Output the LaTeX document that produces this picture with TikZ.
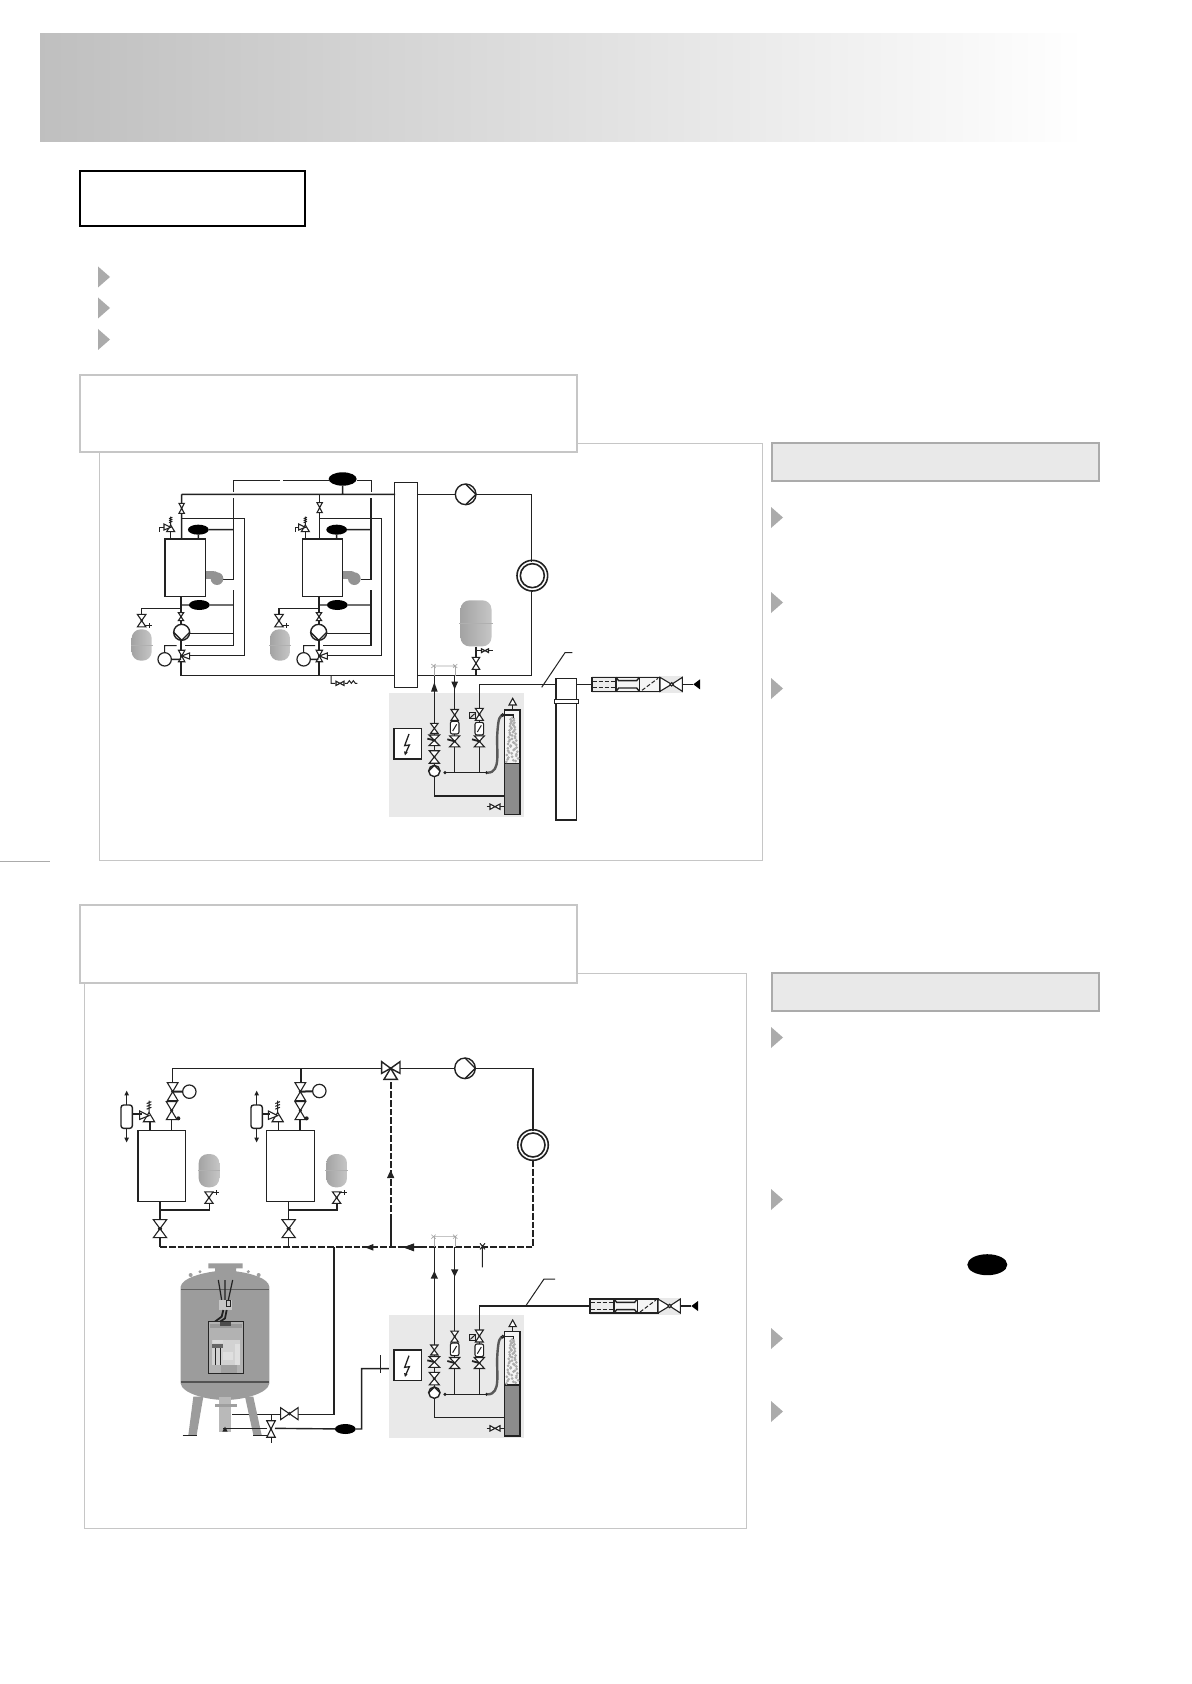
\documentclass[tikz,border=0pt]{standalone}
\usetikzlibrary{shapes.geometric}
\definecolor{boxg}{HTML}{C6C6C6}
\definecolor{headg}{HTML}{ABABAB}
\definecolor{fillg}{HTML}{E9E9E9}
\definecolor{bull}{HTML}{ABABAB}
\definecolor{lineb}{HTML}{222222}
\definecolor{tankg}{HTML}{9C9C9C}
\tikzset{
  pipe/.style={line width=0.7pt,draw=lineb,line join=miter},
  thinp/.style={line width=0.5pt,draw=lineb},
  hair/.style={line width=0.3pt,draw=gray!70},
  dashp/.style={line width=0.9pt,draw=lineb,dash pattern=on 3.4pt off 1pt},
  vlv/.style={draw=lineb,fill=white,line width=0.55pt,line join=miter},
  sensor/.style={ellipse,fill=black,inner sep=0pt,outer sep=0pt,minimum width=10.4pt,minimum height=5pt},
  bigsensor/.style={sensor,minimum width=14pt,minimum height=6.7pt},
  boilerbox/.style={draw=lineb,fill=white,line width=0.7pt,inner sep=0pt,outer sep=0pt,minimum width=20.2pt,minimum height=28.8pt},
  boilerboxb/.style={boilerbox,minimum width=23.8pt,minimum height=35.5pt},
  ctrl/.style={circle,draw=lineb,fill=white,line width=0.6pt,inner sep=0pt,outer sep=0pt,minimum size=6.7pt},
}
\newcommand{\pk}[3][]{\begin{scope}[shift={(#2)},#1]\csname elem#3\endcsname\end{scope}}
\newcommand{\elembow}{\draw[vlv] (-8,-15)--(8,-15)--(-8,15)--(8,15)--cycle;}
\newcommand{\elembowdot}{\draw[vlv] (-8,-15)--(8,-15)--(-8,15)--(8,15)--cycle; \fill[lineb] (0,0) circle (2.6);}
\newcommand{\elemthreeway}{\draw[vlv] (-8,-15)--(8,-15)--(-8,15)--(8,15)--cycle;
     \draw[vlv] (0,0)--(20,-8)--(20,8)--cycle; \fill[lineb] (0,0) circle (3);}
\newcommand{\elempmp}{\draw[vlv,line width=0.7pt] (0,0) circle (1);
     \draw[line width=0.7pt,draw=lineb] (0,1)--(1,0)--(0,-1);}
\newcommand{\elemvessel}{\shade[left color=gray!72,middle color=gray!65,right color=gray!45,rounded corners=4.5pt] (-30,-47) rectangle (30,47);
     \fill[gray!62] (-33,-1.5) rectangle (33,1.5);}
\newcommand{\elemsafety}{\draw[vlv] (0,-7)--(12,13)--(-12,13)--cycle;
     \draw[vlv] (-20,-10)--(0,0)--(-20,8)--cycle;
     \draw[thinp] (0,-7)--(0,-32) (-5,-14)--(5,-18) (-5,-20)--(5,-24) (-5,-26)--(5,-30);}
\newcommand{\elemfilterp}{\draw[vlv,rounded corners=1pt] (-13,-19) rectangle (13,19);
     \draw[thinp] (-6,10)--(6,-10);}
\newcommand{\elemlightn}{\draw[thinp,line width=0.65pt,line join=miter] (5,-30)--(-8,5)--(6,3)--(-6,30);
     \fill[lineb] (-10,22)--(-7,34)--(1,25)--cycle;}
\newcommand{\elemcartridge}{%
     \fill[fillg] (0,-25) rectangle (272,27);
     \draw[thinp,fill=gray!15,line width=0.65pt] (0,-21) rectangle (72,21);
     \draw[thinp,dash pattern=on 2pt off 1pt] (2,-10)--(70,-10) (2,10)--(70,10);
     \draw[thinp,fill=gray!8,line width=0.65pt] (72,-21) rectangle (142,21);
     \draw[pipe] (72,-21)--(80,-11)--(134,-11)--(142,-21) (72,21)--(80,11)--(134,11)--(142,21);
     \draw[thinp,fill=gray!8,line width=0.65pt] (142,-21) rectangle (204,21);
     \draw[thinp,dash pattern=on 2pt off 1pt] (150,18)--(198,-18);
     \draw[vlv] (204,-21)--(239,0)--(204,21)--cycle;
     \draw[vlv] (239,0)--(271,-21)--(271,21)--cycle;
     \draw[vlv] (239,0) circle (5);
     \draw[pipe] (271,0)--(304,0);
     \fill[black] (304,0)--(324,-15)--(324,15)--cycle;}
\newcommand{\bullettri}[2]{\fill[bull] (#1,#2) -- ++(12,10.5) -- ++(-12,10.5) -- cycle;}
\newcommand{\treatunit}{%
  \fill[fillg] (57,730) rectangle (462,1100);
  \fill[white] (72,835) rectangle (155,927);
  \draw[thinp,line width=0.6pt] (72,835) rectangle (155,927);
  \pk{112,882}{lightn}
  \draw[pipe] (193,728)--(193,1038)--(403,1038);
  \draw[pipe] (254,728)--(254,968);
  \draw[pipe] (328,770)--(328,968);
  \draw[pipe,line width=0.55pt] (225,968)--(350,968);
  \draw[thinp] (225,968) circle (3) (350,968) circle (3);
  \draw[gray!70!black,line width=1.2pt] (353,968) .. controls (395,968) and (378,900) .. (382,850) .. controls (385,805) and (388,795) .. (402,795);
  % column
  \draw[pipe,fill=gray!8] (404,780) rectangle (450,940);
  \fill[gray!90,draw=lineb,line width=0.7pt] (404,940) rectangle (450,1093);
  \foreach \i in {0,...,52}{
    \pgfmathsetmacro{\bx}{427+(5+\i*0.26)*sin(\i*137)}
    \pgfmathsetmacro{\by}{803+\i*2.55}
    \fill[gray!65] (\bx,\by) circle (4.5);
  }
  \draw[pipe] (398,795)--(430,795)--(430,803);
  \draw[thinp,fill=gray] (398,795) circle (4);
  \draw[pipe] (428,780)--(428,765);
  \draw[vlv] (428,745)--(439,765)--(417,765)--cycle;
  \draw[pipe] (350,1070)--(403,1070);
  \pk[rotate=90]{375,1070}{bow}
  % left branch
  \pk[xscale=1.4,yscale=1]{193,835}{bow}
  \pk[xscale=2,yscale=1.07]{193,871}{bowdot}
  \draw[pipe,line width=0.9pt] (172,866)--(193,871);
  \pk[xscale=1.9,yscale=1.25]{193,921}{bowdot}
  \pk[rotate=90,scale=17]{193,963}{pmp}
  % middle branch
  \pk[xscale=1.4,yscale=1.1]{254,795}{bowdot}
  \pk{254,833}{filterp}
  \pk[xscale=1.9,yscale=1.1]{254,874}{bowdot}
  \draw[pipe,line width=0.9pt] (232,868)--(254,874);
  % right branch
  \pk[xscale=1.5,yscale=1.2]{328,793}{bowdot}
  \pk{328,836}{filterp}
  \pk[xscale=1.9,yscale=1.1]{328,874}{bowdot}
  \draw[pipe,line width=0.9pt] (306,868)--(328,874);
  \draw[thinp,fill=gray!25,line width=0.65pt] (298,788) rectangle (317,806);
  \draw[thinp] (301,803)--(314,791);
}
\begin{document}
\begin{tikzpicture}[x=0.5pt,y=-0.5pt]
\useasboundingbox (0,0) rectangle (1191,1684);
\fill[white] (0,0) rectangle (1191,1684);
% header
\shade[left color=black!25,right color=white] (40,34) rectangle (1085,142);
\draw[black,line width=1pt,fill=white] (80,171) rectangle (305,226);
\bullettri{98}{266.5}
\bullettri{98}{297.5}
\bullettri{98}{329}
% panels
\draw[boxg,line width=0.5pt] (99.5,444) rectangle (762.5,860);
\draw[boxg,line width=1pt,fill=white] (80,375) rectangle (577,452);
\draw[headg,line width=1pt,fill=fillg] (772,443) rectangle (1099,481);
\bullettri{771}{507}
\bullettri{771}{592}
\bullettri{771}{678}
\draw[headg,line width=0.6pt] (0,861.5) -- (50,861.5);
\draw[boxg,line width=0.5pt] (84.5,973) rectangle (746.5,1528);
\draw[boxg,line width=1pt,fill=white] (80,905) rectangle (577,983);
\draw[headg,line width=1pt,fill=fillg] (772,973) rectangle (1099,1011);
\bullettri{771}{1027}
\bullettri{771}{1189}
\bullettri{771}{1328}
\bullettri{771}{1401}
\node[sensor,minimum width=20pt,minimum height=10.5pt] (noteellipse) at (987.3,1264.7) {};

% ===== diagram 1, boilers =====
\begin{scope}[shift={(100,450)},scale=0.33333]
 \node[bigsensor] (top) at (728,87) {};
 \node[sensor] (s1t) at (295,239) {};
 \node[sensor] (s1b) at (298,465) {};
 \node[sensor] (s2t) at (710,239) {};
 \node[sensor] (s2b) at (712,465) {};
 \draw[pipe] (245,133)--(885,133) (245,133)--(245,265) (728,133)--(top);
 \draw[pipe] (659,133)--(659,265);
 \draw[thinp] (400,125)--(400,90)--(540,90) (550,90)--(690,90) (770,90)--(813,90)--(813,125);
 \draw[pipe] (400,145)--(400,388)--(370,388) (813,145)--(813,388)--(782,388);
 \draw[pipe] (400,420)--(400,587)--(255,587) (813,420)--(813,587)--(668,587);
 \draw[pipe] (245,206)--(434,206)--(434,616)--(265,616);
 \draw[pipe] (659,206)--(845,206)--(845,616)--(680,616);
 \draw[pipe] (s1t)--(400,239) (s1t)--(295,267) (s2t)--(813,239) (s2t)--(710,267);
 \draw[pipe] (243,465)--(s1b)--(400,465) (657,465)--(s2b)--(813,465);
 \draw[pipe] (243,440)--(243,677)--(885,677) (657,440)--(657,677);
 \draw[pipe] (268,551)--(400,551) (680,551)--(813,551);
 \draw[pipe] (243,476)--(125,476)--(125,500) (657,476)--(537,476)--(537,500);
 \draw[pipe] (212,245)--(212,265) (616,245)--(616,265);
 \draw[thinp] (693,677)--(693,700)--(705,700) (735,700)--(742,700)--(748,692)--(754,700)--(760,692)--(766,700)--(772,700);
 \pk[rotate=90,scale=0.8]{720,700}{bow}
 \node[boilerbox] (b1) at (255.5,353.5) {};
 \node[boilerbox] (b2) at (667.5,353.5) {};
 % burners
 \foreach \bxo in {317,729}{
  \fill[gray!85] (\bxo,364) rectangle (\bxo+26,388);
  \fill[gray!85] (\bxo+24,364) -- (\bxo+30,364) -- (\bxo+50,380) -- (\bxo+26,390) -- cycle;
  \fill[gray!85] (\bxo+34,386) circle (19);
 }
 \pk{245,175}{bow}
 \pk{659,173}{bow}
 \pk[yscale=0.8]{243,500}{bowdot}
 \pk[yscale=0.8]{657,500}{bowdot}
 \pk[rotate=-90,scale=24]{245,547}{pmp}
 \pk[rotate=-90,scale=24]{656,547}{pmp}
 \pk[xscale=1.2,yscale=1.15]{245,618}{threeway}
 \pk[xscale=1.2,yscale=1.15]{658,618}{threeway}
 \pk[xscale=1.6,yscale=1.25]{125,512}{bowdot}
 \pk[xscale=1.6,yscale=1.25]{537,512}{bowdot}
 \draw[thinp] (135,527)--(155,527) (148,520)--(148,534) (547,527)--(567,527) (560,520)--(560,534);
 \pk{125,585}{vessel}
 \pk{540,585}{vessel}
 \node[ctrl] (c1) at (194,628) {};
 \node[ctrl] (c2) at (611,628) {};
 \draw[pipe] (c1)--(243,628) (c2)--(655,628);
 \draw[thinp] (c1)--(194,587)--(230,587) (c2)--(611,587)--(645,587);
 \pk{212,232}{safety}
 \pk{616,232}{safety}
 \draw[thinp] (192,232)--(178,232)--(178,245) (596,232)--(585,232)--(585,245);
\end{scope}

% ===== diagram 1, right part =====
\begin{scope}[shift={(370,450)},scale=0.33333]
 \treatunit
 \draw[pipe] (143,133)--(255,133) (318,133)--(485,133)--(485,335);
 \draw[pipe] (485,420)--(485,677)--(143,677);
 \draw[pipe] (74,97) rectangle (143,712);
 \pk[scale=31]{287,133}{pmp}
 \draw[pipe,line width=0.8pt] (487,377) circle (46) (487,377) circle (36);
 \draw[pipe] (318,590)--(318,677);
 \pk[xscale=1.4,yscale=1.2]{318,640}{bow}
 \draw[thinp] (318,602)--(368,602);
 \pk[rotate=90,scale=0.7]{345,602}{bow}
 \pk[xscale=1.55,yscale=1.47]{318,520}{vessel}
 \draw[hair] (190,648)--(258,648) (184,642)--(197,654) (197,642)--(184,654) (249,642)--(262,654) (262,642)--(249,654);
 \draw[hair] (193,648)--(193,677) (255,648)--(255,677);
 \draw[pipe] (193,677)--(193,730) (254,677)--(254,730);
 \fill[lineb] (193,697)--(203,725)--(183,725)--cycle;
 \fill[lineb] (254,718)--(244,695)--(264,695)--cycle;
 \draw[pipe] (328,770)--(328,703)--(558,703);
 \draw[thinp] (515,712)--(585,608)--(607,608);
 \draw[pipe,fill=white] (558,686) rectangle (620,1110);
 \draw[pipe,fill=white] (553,748) rectangle (625,760);
 \draw[pipe] (620,703)--(666,703);
 \pk{666,703}{cartridge}
\end{scope}

% ===== diagram 2, boilers =====
\begin{scope}[shift={(100,1040)},scale=0.33333]
 \node[boilerboxb] (d1) at (185.5,377.5) {};
 \node[boilerboxb] (d2) at (571.5,377.5) {};
 \draw[pipe] (218,125)--(218,85)--(845,85) (603,85)--(603,125);
 \draw[pipe] (215,240)--(215,270) (600,240)--(600,270) (150,245)--(150,270) (535,245)--(535,270);
 \draw[pipe] (180,484)--(180,622) (180,510)--(328,510)--(328,490);
 \draw[pipe] (566,484)--(566,622) (566,510)--(711,510)--(711,490);
 \draw[pipe] (702,622)--(702,660);
 \draw[dashp] (180,622)--(960,622);
 \draw[dashp] (872,622)--(872,115);
 \fill[lineb] (872,390)--(883,414)--(861,414)--cycle;
 \fill[lineb] (795,622)--(820,612)--(820,632)--cycle;
 \fill[lineb] (910,622)--(940,612)--(940,632)--cycle;
 \foreach \ax/\ay in {218/155,601/155}{ \pk[xscale=2,yscale=1.8]{\ax,\ay}{bowdot} }
 \foreach \ax/\ay in {215/212,601/212}{ \pk[xscale=2,yscale=1.8]{\ax,\ay}{bowdot} }
 \foreach \ax/\ay in {180/566,566/566}{ \pk[xscale=2.5,yscale=1.8]{\ax,\ay}{bowdot} }
 \fill[lineb] (235,235) circle (6) (620,235) circle (6);
 \node[ctrl] (k1) at (268,155) {};
 \node[ctrl] (k2) at (658,153) {};
 \draw[pipe,line width=1pt] (218,155)--(k1) (601,155)--(k2);
 \pk[scale=1.4]{147,227}{safety}
 \pk[scale=1.4]{533,227}{safety}
 \draw[pipe] (97,222)--(125,222) (488,222)--(510,222);
 \foreach \rx in {63,453}{
  \draw[pipe,rounded corners=1.3pt,fill=white] (\rx,195) rectangle (\rx+34,265);
  \draw[thinp] (\rx+17,195)--(\rx+17,160) (\rx+17,265)--(\rx+17,300);
  \fill[lineb] (\rx+17,152)--(\rx+24,166)--(\rx+10,166)--cycle;
  \fill[lineb] (\rx+17,307)--(\rx+24,293)--(\rx+10,293)--cycle;
 }
 \pk[xscale=1.55,yscale=1.15]{327,473}{bowdot}
 \pk[xscale=1.55,yscale=1.15]{710,473}{bowdot}
 \draw[thinp] (335,457)--(358,457) (350,450)--(350,464) (718,457)--(740,457) (733,450)--(733,464);
 \pk[xscale=1.03,yscale=1.06]{327,392}{vessel}
 \pk[xscale=1.03,yscale=1.06]{710,392}{vessel}
 % three-way valve
 \draw[vlv,line width=0.7pt] (845,65)--(872,85)--(845,100)--cycle;
 \draw[vlv,line width=0.7pt] (900,65)--(872,85)--(900,100)--cycle;
 \draw[vlv,line width=0.7pt] (872,85)--(892,118)--(852,118)--cycle;
 \fill[lineb] (872,85) circle (4);
\end{scope}

% top loop of diagram 2
\draw[pipe] (400,1068.3)--(455,1068.3) (475,1068.3)--(533,1068.3)--(533,1131);
\pk[scale=10.3]{465,1068.3}{pmp}
\draw[pipe,line width=0.8pt] (533,1145) circle (15.3) (533,1145) circle (12);
\draw[dashp] (533,1160)--(533,1247.3)--(400,1247.3);

% ===== tank =====
\begin{scope}[shift={(160,1250)},scale=0.33333]
 \draw[pipe] (522,0)--(522,494)--(415,494) (362,494)--(215,494);
 \fill[tankg] (100,440)--(130,440)--(110,555)--(85,555)--cycle;
 \fill[tankg] (255,440)--(280,440)--(305,555)--(280,555)--cycle;
 \draw[thinp] (68,555)--(110,555) (280,555)--(322,555);
 \fill[tankg] (62,110) .. controls (66,85) and (120,70) .. (165,64) -- (165,55) -- (145,55) -- (145,40) -- (248,40) -- (248,55) -- (228,55) -- (228,64) .. controls (275,70) and (325,85) .. (328,110) -- (328,400) .. controls (325,430) and (250,450) .. (195,450) .. controls (140,450) and (65,430) .. (62,400) -- cycle;
 \fill[gray!75] (92,75) circle (6) (120,65) circle (5) (265,65) circle (5) (296,75) circle (6);
 \draw[gray!75!black,line width=0.6pt] (62,118)--(328,118);
 \draw[gray!65!black,line width=0.9pt] (62,396)--(328,396);
 \fill[gray!55] (178,440) rectangle (212,545);
 \fill[gray!75] (165,462) rectangle (230,472);
 \draw[lineb,line width=0.6pt] (175,90)--(185,150) (195,90)--(195,150) (218,90)--(205,150);
 \fill[gray!45] (178,150) rectangle (215,180);
 \draw[lineb,line width=0.4pt] (200,152) rectangle (212,168);
 \draw[gray!25!black,line width=0.9pt] (190,180)--(185,200)--(165,215) (200,180)--(195,205)--(180,215);
 \fill[gray!60] (145,213) rectangle (250,370);
 \fill[gray!35] (155,270) rectangle (240,345);
 \fill[gray!80] (150,222) rectangle (245,235);
 \fill[black!70] (180,216) rectangle (212,228);
 \fill[white!70!gray] (160,270) rectangle (188,280);
 \fill[black!60] (155,282) rectangle (188,294);
 \fill[gray!25] (190,305) rectangle (220,330);
 \fill[white!75!gray] (226,282) rectangle (240,345);
 \fill[gray!75] (183,345) rectangle (230,372);
 \draw[gray!30!black,line width=0.3pt] (145,213) rectangle (250,370) (165,295)--(165,345) (180,295)--(180,345);
 \draw[pipe] (190,535)--(320,535);
 \fill[lineb] (195,530)--(203,545)--(187,545)--cycle;
 \draw[thinp] (333,495)--(333,578);
 \pk[xscale=1.6,yscale=1.65]{333,537}{bowdot}
 \pk[rotate=90,xscale=2.25,yscale=1.75]{388,491}{bowdot}
 \node[sensor] (s3) at (556,537) {};
 \draw[pipe] (345,535)--(s3) (s3)--(605,537)--(605,356)--(698,356);
 \draw[thinp] (662,315)--(662,368);
\end{scope}

% ===== diagram 2, right part =====
\begin{scope}[shift={(370,1220)},scale=0.33333]
 \begin{scope}[shift={(0,-445)}]
  \treatunit
 \end{scope}
 \draw[dashp] (63,0)--(63,82);
 \fill[lineb] (100,82)--(132,70)--(132,94)--cycle;
 \draw[pipe] (193,82)--(193,285) (254,82)--(254,285);
 \fill[lineb] (193,153)--(204,176)--(182,176)--cycle;
 \fill[lineb] (254,170)--(243,148)--(265,148)--cycle;
 \draw[pipe] (328,325)--(328,258)--(660,258);
 \draw[thinp] (467,258)--(522,177)--(555,177);
 \draw[hair] (190,50)--(258,50) (184,44)--(197,56) (197,44)--(184,56) (249,44)--(262,56) (262,44)--(249,56);
 \draw[hair] (193,50)--(193,82) (255,50)--(255,82);
 \draw[thinp] (337,75)--(337,142) (330,70)--(345,88) (345,70)--(330,88);
 \pk{660,258}{cartridge}
\end{scope}
\end{tikzpicture}
\end{document}
